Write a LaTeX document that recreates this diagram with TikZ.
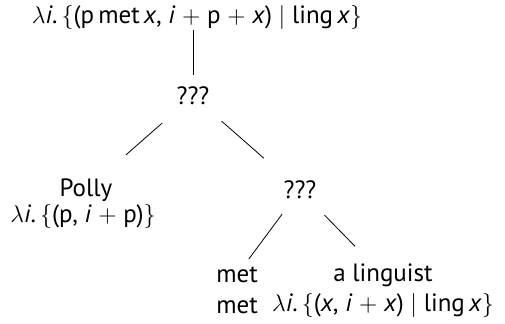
\documentclass[tikz,border=0pt]{standalone}
\usepackage{fontspec}
\setmainfont{PT Sans}
\usetikzlibrary{positioning}
\newcommand{\vi}{\textit{i}}
\newcommand{\vx}{\textit{x}}

\begin{document}
\begin{tikzpicture}[x=0.5pt, y=-0.5pt,
  word/.style={font=\fontsize{12.5}{15}\selectfont, inner sep=0pt},
  branch/.style={thin},
]
\useasboundingbox (0,0) rectangle (505,324);

% === nodes ===
\node[word] (top) at (197, 18) {$\lambda$\vi.\,$\{$(p\,met\,\vx, \vi{} $+$ p $+$ \vx) $\mid$ ling\,\vx$\}$};
\node[word] (q1) at (193, 96) {???};
\node[word] (polly) at (86, 190) {Polly};
\node[word] (pollysem) at (83, 217) {$\lambda$\vi.\,$\{$(p, \vi{} $+$ p)$\}$};
\node[word] (q2) at (300, 190) {???};
\node[word] (met) at (237, 275) {met};
\node[word] (metsem) at (237, 306) {met};
\node[word] (ling) at (383, 275) {a linguist};
\node[word] (lingsem) at (383, 306) {$\lambda$\vi.\,$\{$(\vx, \vi{} $+$ \vx) $\mid$ ling\,\vx$\}$};

% === branches ===
\draw[branch, shorten <=6pt, shorten >=10.5pt] (top.center -| q1.center) -- (q1.center);
\draw[branch, shorten <=20.5pt, shorten >=26.5pt] (q1.center) -- (polly.center);
\draw[branch, shorten <=19pt, shorten >=24pt] (q1.center) -- (q2.center);
\draw[branch, shorten <=15pt, shorten >=10pt] (q2.center) -- (met.center);
\draw[branch, shorten <=17.5pt, shorten >=20pt] (q2.center) -- (ling.center);

\end{tikzpicture}
\end{document}
